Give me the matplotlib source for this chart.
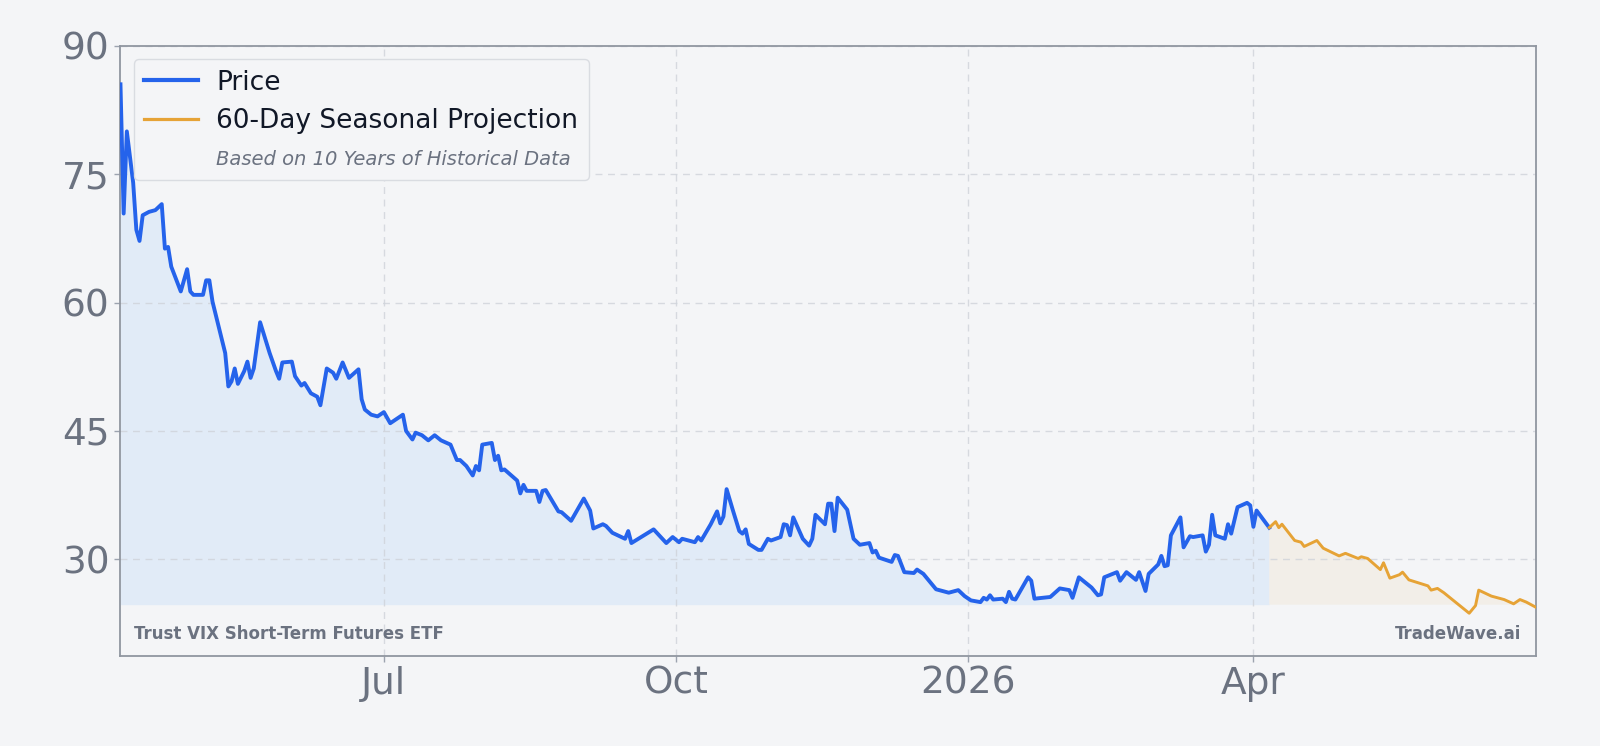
import matplotlib
matplotlib.use("Agg")
import matplotlib.pyplot as plt
import matplotlib.dates as mdates
from matplotlib.lines import Line2D
import numpy as np
import pandas as pd

price_dates = [
    "2025-04-09", "2025-04-10", "2025-04-11", "2025-04-13", "2025-04-14", "2025-04-15",
    "2025-04-16", "2025-04-18", "2025-04-20", "2025-04-22", "2025-04-23", "2025-04-24",
    "2025-04-25", "2025-04-28", "2025-04-30", "2025-05-01", "2025-05-02", "2025-05-05",
    "2025-05-06", "2025-05-07", "2025-05-08", "2025-05-12", "2025-05-13", "2025-05-14",
    "2025-05-15", "2025-05-16", "2025-05-18", "2025-05-19", "2025-05-20", "2025-05-21",
    "2025-05-23", "2025-05-26", "2025-05-28", "2025-05-29", "2025-05-30", "2025-06-02",
    "2025-06-03", "2025-06-05", "2025-06-06", "2025-06-08", "2025-06-10", "2025-06-11",
    "2025-06-13", "2025-06-15", "2025-06-16", "2025-06-18", "2025-06-20", "2025-06-23",
    "2025-06-24", "2025-06-25", "2025-06-27", "2025-06-29", "2025-07-01", "2025-07-03",
    "2025-07-07", "2025-07-08", "2025-07-10", "2025-07-11", "2025-07-13", "2025-07-15",
    "2025-07-17", "2025-07-19", "2025-07-22", "2025-07-24", "2025-07-25", "2025-07-27",
    "2025-07-29", "2025-07-30", "2025-07-31", "2025-08-01", "2025-08-04", "2025-08-05",
    "2025-08-06", "2025-08-07", "2025-08-08", "2025-08-12", "2025-08-13", "2025-08-14",
    "2025-08-15", "2025-08-18", "2025-08-19", "2025-08-20", "2025-08-21", "2025-08-25",
    "2025-08-26", "2025-08-29", "2025-09-02", "2025-09-04", "2025-09-05", "2025-09-08",
    "2025-09-09", "2025-09-11", "2025-09-15", "2025-09-16", "2025-09-17", "2025-09-24",
    "2025-09-28", "2025-09-30", "2025-10-02", "2025-10-03", "2025-10-07", "2025-10-08",
    "2025-10-09", "2025-10-12", "2025-10-14", "2025-10-15", "2025-10-16", "2025-10-17",
    "2025-10-19", "2025-10-21", "2025-10-22", "2025-10-23", "2025-10-24", "2025-10-27",
    "2025-10-28", "2025-10-30", "2025-10-31", "2025-11-03", "2025-11-04", "2025-11-05",
    "2025-11-06", "2025-11-07", "2025-11-10", "2025-11-12", "2025-11-13", "2025-11-14",
    "2025-11-17", "2025-11-18", "2025-11-19", "2025-11-20", "2025-11-21", "2025-11-24",
    "2025-11-26", "2025-11-28", "2025-12-01", "2025-12-02", "2025-12-03", "2025-12-04",
    "2025-12-08", "2025-12-09", "2025-12-10", "2025-12-12", "2025-12-15", "2025-12-16",
    "2025-12-18", "2025-12-22", "2025-12-26", "2025-12-29", "2025-12-31", "2026-01-02",
    "2026-01-05", "2026-01-06", "2026-01-07", "2026-01-08", "2026-01-09", "2026-01-12",
    "2026-01-13", "2026-01-14", "2026-01-15", "2026-01-16", "2026-01-20", "2026-01-21",
    "2026-01-22", "2026-01-27", "2026-01-30", "2026-02-02", "2026-02-03", "2026-02-05",
    "2026-02-09", "2026-02-11", "2026-02-12", "2026-02-13", "2026-02-17", "2026-02-18",
    "2026-02-20", "2026-02-23", "2026-02-24", "2026-02-26", "2026-02-27", "2026-03-02",
    "2026-03-03", "2026-03-04", "2026-03-05", "2026-03-06", "2026-03-09", "2026-03-10",
    "2026-03-12", "2026-03-13", "2026-03-16", "2026-03-17", "2026-03-18", "2026-03-19",
    "2026-03-20", "2026-03-23", "2026-03-24", "2026-03-25", "2026-03-27", "2026-03-30",
    "2026-03-31", "2026-04-01", "2026-04-02", "2026-04-06",
]
price_values = [
    85.5, 70.4, 80.0, 74.0, 68.5, 67.2,
    70.2, 70.6, 70.8, 71.5, 66.3, 66.5,
    64.2, 61.3, 63.9, 61.3, 60.9, 60.9,
    62.6, 62.6, 60.1, 54.1, 50.2, 50.8,
    52.3, 50.5, 52.0, 53.1, 51.2, 52.3,
    57.7, 54.1, 52.0, 51.1, 53.0, 53.1,
    51.4, 50.3, 50.6, 49.4, 49.0, 48.0,
    52.3, 51.8, 51.1, 53.0, 51.2, 52.2,
    48.7, 47.5, 46.9, 46.7, 47.2, 45.9,
    46.9, 45.0, 44.0, 44.8, 44.5, 43.9,
    44.5, 43.9, 43.4, 41.6, 41.6, 40.9,
    39.8, 40.9, 40.4, 43.4, 43.6, 41.6,
    42.1, 40.4, 40.5, 39.2, 37.7, 38.7,
    38.0, 38.0, 36.7, 38.0, 38.1, 35.6,
    35.5, 34.5, 37.1, 35.7, 33.6, 34.1,
    33.9, 33.1, 32.4, 33.3, 31.9, 33.5,
    31.9, 32.6, 32.0, 32.4, 32.0, 32.6,
    32.2, 34.1, 35.6, 34.2, 35.0, 38.2,
    35.7, 33.3, 33.0, 33.5, 31.8, 31.1,
    31.1, 32.4, 32.2, 32.6, 34.1, 34.0,
    32.8, 34.9, 32.4, 31.6, 32.4, 35.2,
    34.1, 36.5, 36.5, 33.3, 37.2, 35.8,
    32.4, 31.7, 31.9, 30.8, 31.0, 30.2,
    29.7, 30.5, 30.4, 28.5, 28.4, 28.8,
    28.3, 26.5, 26.1, 26.4, 25.7, 25.2,
    25.0, 25.5, 25.3, 25.8, 25.3, 25.4,
    25.0, 26.2, 25.4, 25.3, 27.9, 27.5,
    25.4, 25.6, 26.6, 26.4, 25.5, 27.9,
    26.7, 25.8, 25.9, 27.9, 28.5, 27.5,
    28.5, 27.6, 28.5, 26.3, 28.3, 29.4,
    30.4, 29.2, 29.3, 32.8, 34.9, 31.4,
    32.7, 32.6, 32.8, 30.9, 31.7, 35.2,
    32.8, 32.4, 34.1, 33.0, 36.1, 36.6,
    36.3, 33.8, 35.7, 33.7,
]

proj_dates = [
    "2026-04-06", "2026-04-08", "2026-04-09", "2026-04-10", "2026-04-14", "2026-04-16",
    "2026-04-17", "2026-04-21", "2026-04-23", "2026-04-28", "2026-04-30", "2026-05-04",
    "2026-05-05", "2026-05-07", "2026-05-11", "2026-05-12", "2026-05-14", "2026-05-17",
    "2026-05-18", "2026-05-20", "2026-05-26", "2026-05-27", "2026-05-29", "2026-05-31",
    "2026-06-03", "2026-06-08", "2026-06-10", "2026-06-11", "2026-06-15", "2026-06-17",
    "2026-06-19", "2026-06-22", "2026-06-24", "2026-06-26", "2026-06-29",
]
proj_values = [
    33.7, 34.4, 33.7, 34.1, 32.2, 32.0,
    31.5, 32.2, 31.3, 30.4, 30.7, 30.1,
    30.3, 30.1, 28.8, 29.6, 27.8, 28.2,
    28.5, 27.6, 26.9, 26.4, 26.6, 26.1,
    25.2, 23.7, 24.6, 26.4, 25.7, 25.5,
    25.3, 24.8, 25.3, 25.0, 24.4,
]

y_ticks = [30, 45, 60, 75, 90]
fill_base = 24.7

bg = "#f4f5f7"
blue = "#2563eb"
orange = "#e6a336"
gray = "#6b7280"

px = pd.to_datetime(price_dates)
pj = pd.to_datetime(proj_dates)
pv = np.array(price_values)
jv = np.array(proj_values)

fig = plt.figure(figsize=(16, 7.46), dpi=100, facecolor=bg)
ax = fig.add_axes([0.0753, 0.1206, 0.8846, 0.818])
ax.set_facecolor(bg)

ax.fill_between(px, pv, fill_base, color="#e1ebf7", linewidth=0)
ax.fill_between(pj, jv, fill_base, where=jv >= fill_base, interpolate=True,
                color="#f2eee8", linewidth=0)
ax.plot(px, pv, color=blue, linewidth=2.8, label="Price", zorder=3)
ax.plot(pj, jv, color=orange, linewidth=2.1, label="60-Day Seasonal Projection", zorder=3)

ax.set_xlim(px[0], pj[-1])
ax.set_ylim(18.7, 90)
ax.set_yticks(y_ticks)

ax.xaxis.set_major_locator(mdates.MonthLocator(bymonth=[1, 4, 7, 10]))
ax.xaxis.set_major_formatter(plt.FuncFormatter(
    lambda v, pos: mdates.num2date(v).strftime("%Y" if mdates.num2date(v).month == 1 else "%b")))

ax.grid(True, color="#cfd3da", linestyle=(0, (5, 4)), linewidth=1.0, alpha=0.8)
ax.tick_params(axis="both", labelsize=27, colors="#9ca3af", labelcolor=gray, length=4, width=1)
ax.tick_params(axis="x", pad=3)
ax.tick_params(axis="y", pad=4)
for s in ax.spines.values():
    s.set_color("#9096a0")
    s.set_linewidth(1.3)

handles = [
    Line2D([], [], color=blue, linewidth=3.0),
    Line2D([], [], color=orange, linewidth=2.3),
    Line2D([], [], color="none"),
]
labels = ["Price", "60-Day Seasonal Projection", "Based on 10 Years of Historical Data"]
leg = ax.legend(handles, labels, loc="upper left", fontsize=19, frameon=True,
                facecolor=bg, edgecolor="#d9dce1", framealpha=1.0,
                handlelength=2.05, handletextpad=0.68, borderpad=0.4,
                labelspacing=0.48, borderaxespad=0.5)
for t in leg.get_texts()[:2]:
    t.set_color("#111827")
it = leg.get_texts()[2]
it.set_fontstyle("italic")
it.set_fontsize(14)
it.set_color(gray)

ax.text(0.0094, 0.0365, "Trust VIX Short-Term Futures ETF", transform=ax.transAxes,
        fontsize=12, fontweight="bold", color=gray, va="center", ha="left")
ax.text(0.9899, 0.0365, "TradeWave.ai", transform=ax.transAxes,
        fontsize=12, fontweight="bold", color=gray, va="center", ha="right")

fig.savefig("out.png", dpi=100, facecolor=bg)
